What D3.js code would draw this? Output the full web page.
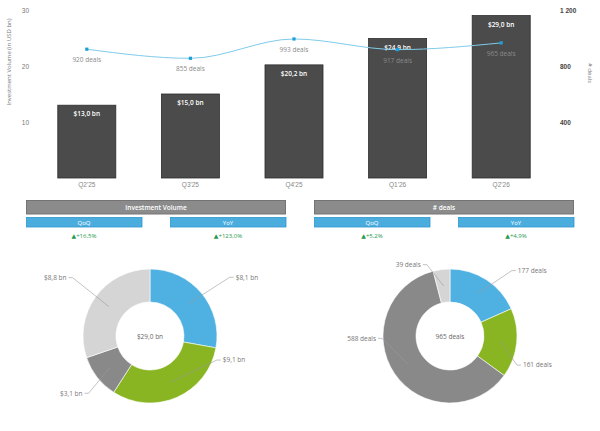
<!DOCTYPE html>
<html>
<head>
<meta charset="utf-8">
<script src="https://cdn.jsdelivr.net/npm/d3@7"></script>
<style>
  body { margin: 0; background: #fff; }
  svg { font-family: "Open Sans", "DejaVu Sans", sans-serif; display: block; }
</style>
</head>
<body>
<div id="chart"></div>
<script>
// data
const quarters = ["Q2'25", "Q3'25", "Q4'25", "Q1'26", "Q2'26"];
const volume = [13.0, 15.0, 20.2, 24.9, 29.0];
const deals = [920, 855, 993, 917, 965];
const volumeTicks = [10, 20, 30];
const dealsTicks = [400, 800, 1200];

const kpiTitles = ["Investment Volume", "# deals"];
const kpiQoQ = ["+16,5%", "+5,2%"];
const kpiYoY = ["+123,0%", "+4,9%"];

const segments = ["A", "B", "C", "D"];
const segmentVolume = [8.1, 9.1, 3.1, 8.8];
const segmentDeals = [177, 161, 588, 39];
const segmentColors = ["#4eb1e1", "#88b521", "#898989", "#d5d5d5"];

const fmtComma = (v, d) => v.toFixed(d).replace(".", ",");

function draw() {
    const svg = d3.select("#chart").append("svg")
        .attr("width", 600)
        .attr("height", 431);

    // 1. combo chart
    const x = d3.scaleBand().domain(quarters).range([35, 553]).paddingInner(0.44).paddingOuter(0.22);
    const yL = d3.scaleLinear().domain([0, 30]).range([178, 10]);
    const yR = d3.scaleLinear().domain([0, 1200]).range([178, 10]);

    const axL = svg.append("g")
        .attr("transform", "translate(30,0)")
        .call(d3.axisLeft(yL).tickValues(volumeTicks).tickSize(0).tickPadding(1));
    axL.select(".domain").remove();
    axL.selectAll("text").attr("fill", "#777").style("font-size", "6.5px");

    const axR = svg.append("g")
        .attr("transform", "translate(559,0)")
        .call(d3.axisRight(yR).tickValues(dealsTicks).tickSize(0).tickPadding(1)
            .tickFormat(d => d3.format(",")(d).replace(",", " ")));
    axR.select(".domain").remove();
    axR.selectAll("text").attr("fill", "#444").style("font-size", "6.5px").style("font-weight", "bold");

    svg.append("text")
        .attr("transform", "translate(11,62) rotate(-90)")
        .attr("text-anchor", "middle")
        .attr("fill", "#777")
        .style("font-size", "6px")
        .text("Investment Volume (in USD bn)");

    svg.append("text")
        .attr("transform", "translate(588,73) rotate(90)")
        .attr("text-anchor", "middle")
        .attr("fill", "#777")
        .style("font-size", "6px")
        .text("# deals");

    const axB = svg.append("g")
        .attr("transform", "translate(0,180)")
        .call(d3.axisBottom(x).tickSize(0).tickPadding(2));
    axB.select(".domain").remove();
    axB.selectAll("text").attr("fill", "#888").style("font-size", "6.5px");

    svg.selectAll("rect.bar")
        .data(volume)
        .join("rect")
        .attr("class", "bar")
        .attr("x", (d, i) => x(quarters[i]))
        .attr("y", d => yL(d))
        .attr("width", x.bandwidth())
        .attr("height", d => yL(0) - yL(d))
        .attr("fill", "#4b4b4b")
        .attr("stroke", "#2c2c2c")
        .attr("stroke-width", 0.8);

    svg.selectAll("text.barlbl")
        .data(volume)
        .join("text")
        .attr("class", "barlbl")
        .attr("x", (d, i) => x(quarters[i]) + x.bandwidth() / 2)
        .attr("y", d => yL(d) + 11)
        .attr("text-anchor", "middle")
        .attr("fill", "#fff")
        .style("font-size", "6.5px")
        .style("font-weight", "600")
        .text(d => "$" + fmtComma(d, 1) + " bn");

    const line = d3.line()
        .x((d, i) => x(quarters[i]) + x.bandwidth() / 2)
        .y(d => yR(d))
        .curve(d3.curveMonotoneX);

    svg.append("path")
        .datum(deals)
        .attr("d", line)
        .attr("fill", "none")
        .attr("stroke", "#7fcbea")
        .attr("stroke-width", 1);

    svg.selectAll("rect.pt")
        .data(deals)
        .join("rect")
        .attr("class", "pt")
        .attr("x", (d, i) => x(quarters[i]) + x.bandwidth() / 2 - 1.6)
        .attr("y", d => yR(d) - 1.6)
        .attr("width", 3.2)
        .attr("height", 3.2)
        .attr("fill", "#1f9fda");

    svg.selectAll("text.ptlbl")
        .data(deals)
        .join("text")
        .attr("class", "ptlbl")
        .attr("x", (d, i) => x(quarters[i]) + x.bandwidth() / 2)
        .attr("y", d => yR(d) + 13)
        .attr("text-anchor", "middle")
        .attr("fill", "#8a8a8a")
        .style("font-size", "6.5px")
        .text(d => d + " deals");

    // 2. KPI cards
    const cards = svg.selectAll("g.card")
        .data(kpiTitles)
        .join("g")
        .attr("class", "card")
        .attr("transform", (d, i) => `translate(${26 + i * 288},0)`);

    cards.append("rect")
        .attr("x", 0.5).attr("y", 200.5).attr("width", 259).attr("height", 13.5)
        .attr("fill", "#8b8b8b").attr("stroke", "#747474");
    cards.append("text")
        .attr("x", 130).attr("y", 209.5)
        .attr("text-anchor", "middle").attr("fill", "#fff")
        .style("font-size", "6.5px").style("font-weight", "600")
        .text(d => d);

    ["QoQ", "YoY"].forEach((lbl, j) => {
        const vals = j === 0 ? kpiQoQ : kpiYoY;
        cards.append("rect")
            .attr("x", j * 144 + 0.5).attr("y", 217.5).attr("width", 115.5).attr("height", 9.5)
            .attr("fill", "#4badde").attr("stroke", "#2f96cf").attr("stroke-width", 0.8);
        cards.append("text")
            .attr("x", j * 144 + 58).attr("y", 224.6)
            .attr("text-anchor", "middle").attr("fill", "#fff")
            .style("font-size", "6px")
            .text(lbl);
        cards.append("text")
            .attr("x", j * 144 + 58).attr("y", 238)
            .attr("text-anchor", "middle").attr("fill", "#1f9a4c")
            .style("font-size", "6px")
            .text((d, i) => "\u25B2" + vals[i]);
    });

    // 3. donuts
    const R = 67, r = 34;
    const pie = d3.pie().sort(null).value(d => d);
    const arc = d3.arc().innerRadius(r).outerRadius(R);
    const mid = d3.arc().innerRadius((r + R) / 2).outerRadius((r + R) / 2);

    // leader bend points (angle from 12 o'clock, distance)
    const bends = [
        [[53.6, 99], [109.8, 71], [227, 84], [307, 97]],
        [[43.4, 90], [113.5, 73], [268, 68], [342, 75]]
    ];

    const donuts = [
        { cx: 150, values: segmentVolume, total: "$29,0 bn", fmt: d => "$" + fmtComma(d, 1) + " bn" },
        { cx: 450, values: segmentDeals, total: "965 deals", fmt: d => d + " deals" }
    ];

    donuts.forEach((dn, k) => {
        const g = svg.append("g").attr("transform", `translate(${dn.cx},336)`);
        const arcs = pie(dn.values);

        g.selectAll("path.slice")
            .data(arcs)
            .join("path")
            .attr("class", "slice")
            .attr("d", arc)
            .attr("fill", (d, i) => segmentColors[i])
            .attr("stroke", "#fff")
            .attr("stroke-width", 0.6);

        g.append("text")
            .attr("y", 2.5)
            .attr("text-anchor", "middle")
            .attr("fill", "#666")
            .style("font-size", "6.5px")
            .text(dn.total);

        arcs.forEach((a, i) => {
            const c = mid.centroid(a);
            const ang = bends[k][i][0] * Math.PI / 180;
            const bx = bends[k][i][1] * Math.sin(ang);
            const by = -bends[k][i][1] * Math.cos(ang);
            const side = bx >= 0 ? 1 : -1;
            g.append("polyline")
                .attr("points", [c, [bx, by], [bx + side * 4, by]].map(p => p.join(",")).join(" "))
                .attr("fill", "none")
                .attr("stroke", "#9a9a9a")
                .attr("stroke-width", 0.6);
            g.append("text")
                .attr("x", bx + side * 6)
                .attr("y", by + 2.3)
                .attr("text-anchor", side > 0 ? "start" : "end")
                .attr("fill", "#777")
                .style("font-size", "6.5px")
                .text(dn.fmt(a.data));
        });
    });
}

draw();
</script>
</body>
</html>
